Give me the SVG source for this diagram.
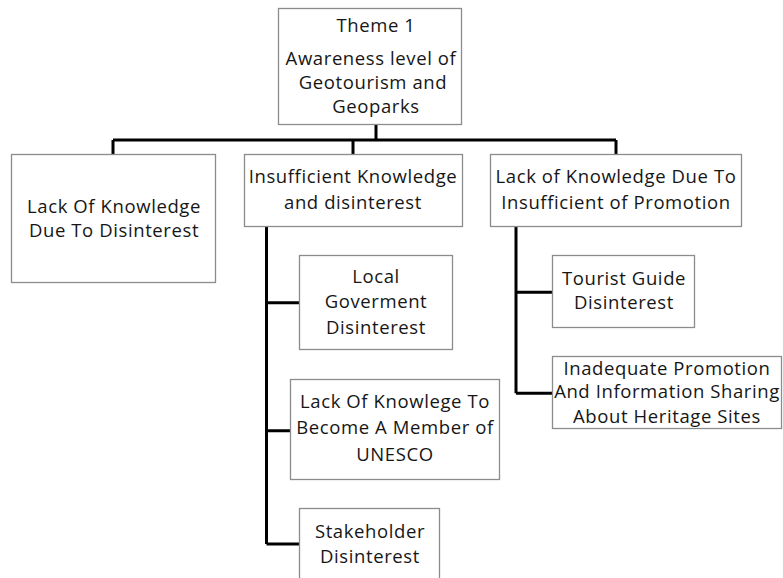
<svg xmlns="http://www.w3.org/2000/svg" width="783" height="578" viewBox="0 0 783 578">
<style>
.box{fill:#fff;stroke:#8c8c8c;stroke-width:1.3}
.t{font-family:"Open Sans","Noto Sans","Liberation Sans",sans-serif;font-size:18.5px;letter-spacing:0.6px;fill:#161616;text-anchor:middle}
.c{fill:none;stroke:#000;stroke-width:3}
</style>
<rect width="783" height="578" fill="#fff"/>
<g id="connectors">
<path class="c" d="M376 124V140M113 140H616M113 140V154M353 140V154M616 140V154"/>
<path class="c" d="M266.5 226V544M266.5 302.7H299M266.5 430.7H290M266.5 544H299"/>
<path class="c" d="M516 226.7V393.3M516 292.3H552M516 393.3H552"/>
</g>
<g id="n0"><rect class="box" x="278.5" y="8.5" width="183" height="116"/>
<text class="t" x="376" y="32">Theme 1</text>
<text class="t" x="371" y="65">Awareness level of</text>
<text class="t" x="373" y="89">Geotourism and</text>
<text class="t" x="376" y="113">Geoparks</text></g>
<g id="n1"><rect class="box" x="11.5" y="154.5" width="204" height="128"/>
<text class="t" x="114" y="213">Lack Of Knowledge</text>
<text class="t" x="114" y="237">Due To Disinterest</text></g>
<g id="n2"><rect class="box" x="244.5" y="154.5" width="218" height="72"/>
<text class="t" x="353" y="183">Insufficient Knowledge</text>
<text class="t" x="353" y="209">and disinterest</text></g>
<g id="n3"><rect class="box" x="490.5" y="154.5" width="251" height="72"/>
<text class="t" x="616" y="183">Lack of Knowledge Due To</text>
<text class="t" x="616" y="209">Insufficient of Promotion</text></g>
<g id="n4"><rect class="box" x="299.5" y="255.5" width="153" height="94"/>
<text class="t" x="376" y="283">Local</text>
<text class="t" x="376" y="308">Goverment</text>
<text class="t" x="376" y="334">Disinterest</text></g>
<g id="n5"><rect class="box" x="290.5" y="379.5" width="209" height="100"/>
<text class="t" x="395" y="408">Lack Of Knowlege To</text>
<text class="t" x="395" y="434">Become A Member of</text>
<text class="t" x="395" y="461">UNESCO</text></g>
<g id="n6"><rect class="box" x="299.5" y="508.5" width="140" height="80"/>
<text class="t" x="370" y="538">Stakeholder</text>
<text class="t" x="370" y="563">Disinterest</text></g>
<g id="n7"><rect class="box" x="552.5" y="255.5" width="142" height="72"/>
<text class="t" x="624" y="285">Tourist Guide</text>
<text class="t" x="624" y="309">Disinterest</text></g>
<g id="n8"><rect class="box" x="552.5" y="356.5" width="229" height="72"/>
<text class="t" x="667" y="375">Inadequate Promotion</text>
<text class="t" x="667" y="398">And Information Sharing</text>
<text class="t" x="667" y="423">About Heritage Sites</text></g>
</svg>
